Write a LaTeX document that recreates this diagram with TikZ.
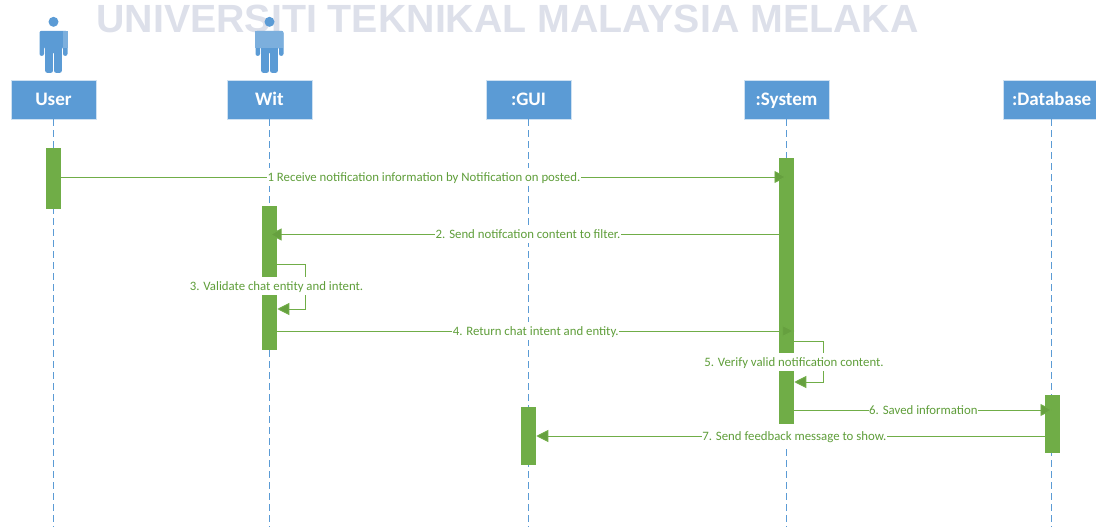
\documentclass[tikz,border=0pt]{standalone}
\usepackage{fontspec}
\setmainfont{Carlito}
\newfontfamily\wmfont{Liberation Sans}
\usetikzlibrary{positioning,arrows.meta}
\usetikzlibrary{calc}
\definecolor{headblue}{HTML}{5B9BD5}
\definecolor{barzgreen}{HTML}{70AD47}
\definecolor{tipgreen}{HTML}{66A03F}
\definecolor{msgtext}{HTML}{5F9E3A}
\definecolor{wmgray}{HTML}{DDE0EA}

\begin{document}
\begin{tikzpicture}[
    x=0.75pt,
    y=-0.75pt,
    % Lifeline head
    head/.style={
        draw=white!70!headblue,
        fill=headblue,
        text=white,
        minimum width=63.75pt,
        minimum height=29.5pt,
        inner sep=0pt,
        outer sep=0pt,
        text height=11pt,
        text depth=2pt,
        font=\bfseries\fontsize{14.3}{16}\selectfont
    },
    % Activation
    bar/.style={
        fill=barzgreen,
        minimum width=11.25pt,
        inner sep=0pt
    },
    % Lifeline
    lifeline/.style={
        draw=headblue,
        dash pattern=on 5.25pt off 3pt,
        line width=0.7pt
    },
    % Message
    msg/.style={
        draw=barzgreen,
        line width=0.7pt,
        -{Triangle[length=9pt,width=9pt,fill=tipgreen]}
    },
    % Message text
    msglabel/.style={
        fill=white,
        text=msgtext,
        inner xsep=0.5pt,
        inner ysep=1.1pt,
        text height=8.6pt,
        text depth=2pt,
        font=\fontsize{9.6}{11}\selectfont
    },
    % Person above a head
    person/.pic={
        \fill[headblue] (0,-58) circle (5);
        \fill[headblue, rounded corners=1.5pt] (-14,-49) -- (14,-49) -- (14,-24)
            -- (9.5,-24) -- (9.5,-33) -- (8.3,-33) -- (8.3,-7) -- (0.6,-7) -- (0.6,-28)
            -- (-0.6,-28) -- (-0.6,-7) -- (-8.3,-7) -- (-8.3,-33) -- (-9.5,-33)
            -- (-9.5,-24) -- (-14,-24) -- cycle;
    }
]
\useasboundingbox (0,0) rectangle (1096,531);

% Watermark
\node[text=wmgray, inner sep=0pt, font=\wmfont\bfseries\fontsize{29.5}{32}\selectfont] (watermark) at (507.5,18.5) {UNIVERSITI TEKNIKAL MALAYSIA MELAKA};

% Heads
\node[head] (user) at (53.5,99.5) {User};
\node[head, right=98.25pt of user] (wit) {Wit};
\node[head, right=130.5pt of wit] (gui) {:GUI};
\node[head, right=129.75pt of gui] (system) {:System};
\node[head, right=130.5pt of system, minimum width=73pt] (database) {:Database};

\coordinate (bottom) at (0,527);

% Lifelines
\foreach \who in {user,wit,gui,system,database}
    \draw[lifeline] (\who.south) -- (\who.south |- bottom);

% Persons
\pic at (user.north) {person};
\pic at (wit.north) {person};
\fill[white!20!headblue] (63,31) rectangle (68,48);
\fill[white!20!headblue] (255,31) rectangle (283,48);

% Activations
\node[bar, minimum height=45.75pt] (userbar) at (53.7,178.5) {};
\node[bar, minimum height=108pt] (witbar) at (269.5,278) {};
\node[bar, minimum height=43.5pt] (guibar) at (528.5,436) {};
\node[bar, minimum height=199.5pt] (systembar) at (786.5,291) {};
\node[bar, minimum height=43.5pt] (databasebar) at (1052.5,424) {};

% Messages
\draw[msg] (userbar.east |- 0,177) -- node[msglabel] {1 Receive notification information by Notification on posted.} (systembar.center |- 0,177);
\draw[msg] (systembar.center |- 0,234.5) -- node[msglabel] {2. Send notifcation content to filter.} (witbar.center |- 0,234.5);
\draw[msg] (witbar.east |- 0,264) -| (305,309) -- (witbar.east |- 0,309);
\node[msglabel] (validate) at (276.5,286) {3. Validate chat entity and intent.};
\draw[msg] (witbar.east |- 0,331) -- node[msglabel] {4. Return chat intent and entity.} (systembar.east |- 0,331);
\draw[msg] (systembar.east |- 0,341) -| (823,382) -- (systembar.east |- 0,382);
\node[msglabel] (verify) at (794,362) {5. Verify valid notification content.};
\draw[msg] (systembar.east |- 0,410) -- node[msglabel] {6. Saved information} (databasebar.center |- 0,410);
\draw[msg] (databasebar.center |- 0,436) -- node[msglabel] {7. Send feedback message to show.} (guibar.east |- 0,436);

\end{tikzpicture}
\end{document}
